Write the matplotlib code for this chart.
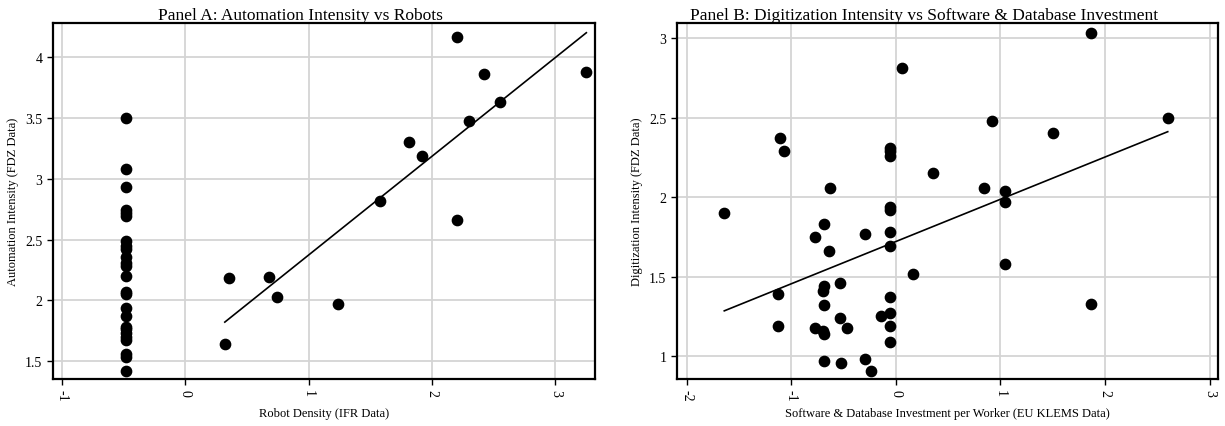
import numpy as np
import matplotlib.pyplot as plt
from matplotlib.ticker import FuncFormatter

plt.rcParams['font.family'] = ['Liberation Serif', 'DejaVu Serif']

# Panel A: robots vs automation intensity
robot_missing_x = -0.48
robot_missing_y = [3.50, 3.08, 2.93, 2.74, 2.72, 2.69, 2.49, 2.45, 2.42, 2.36,
                   2.31, 2.28, 2.20, 2.07, 2.05, 1.94, 1.87, 1.78, 1.76, 1.73,
                   1.70, 1.67, 1.56, 1.53, 1.42]
robot_x = [0.35, 0.32, 0.68, 0.74, 1.24, 1.58, 1.81, 1.92, 2.20, 2.20,
           2.30, 2.42, 2.55, 3.25]
robot_y = [2.18, 1.64, 2.19, 2.03, 1.97, 2.82, 3.30, 3.19, 4.17, 2.66,
           3.48, 3.86, 3.63, 3.88]

# Panel B: software investment vs digitization intensity
soft_x = [-1.64, -1.11, -1.07, -1.13, -1.13, -0.63, -0.69, -0.77, -0.64, -0.69,
          -0.70, -0.69, -0.53, -0.53, -0.77, -0.70, -0.69, -0.47, -0.69, -0.52,
          -0.29, -0.24, -0.29, -0.14, -0.06, -0.06, -0.06, -0.06, -0.06, -0.06,
          -0.06, -0.06, -0.06, -0.06, -0.06, 0.06, 0.16, 0.36, 0.92, 0.84,
          1.04, 1.04, 1.04, 1.50, 1.87, 1.87, 2.60]
soft_y = [1.90, 2.37, 2.29, 1.39, 1.19, 2.06, 1.83, 1.75, 1.66, 1.44,
          1.41, 1.32, 1.46, 1.24, 1.18, 1.16, 1.14, 1.18, 0.97, 0.96,
          0.98, 0.91, 1.77, 1.25, 2.31, 2.29, 2.26, 1.94, 1.92, 1.78,
          1.69, 1.37, 1.27, 1.19, 1.09, 2.81, 1.52, 2.15, 2.48, 2.06,
          2.04, 1.97, 1.58, 2.40, 3.03, 1.33, 2.50]

fig = plt.figure(figsize=(12.25, 4.27), dpi=100)
ax1 = fig.add_axes([0.043, 0.110, 0.4427, 0.833])
ax2 = fig.add_axes([0.5524, 0.110, 0.4421, 0.833])

fmt = FuncFormatter(lambda v, p: '{:g}'.format(v))


def style(ax):
    ax.grid(True, color='#d4d4d4', linewidth=1.3)
    ax.set_axisbelow(True)
    for s in ax.spines.values():
        s.set_linewidth(1.6)
        s.set_color('black')
    ax.tick_params(axis='both', labelsize=10, length=4, width=1, direction='out')
    ax.tick_params(axis='x', labelrotation=-90)
    ax.xaxis.set_major_formatter(fmt)
    ax.yaxis.set_major_formatter(fmt)


# Panel A
ax1.scatter([robot_missing_x] * len(robot_missing_y), robot_missing_y, s=55, color='black', zorder=3)
ax1.scatter(robot_x, robot_y, s=55, color='black', zorder=3)
b1, a1 = np.polyfit(robot_x, robot_y, 1)
xs = np.array([min(robot_x), max(robot_x)])
ax1.plot(xs, a1 + b1 * xs, color='black', linewidth=1.2, zorder=2)
ax1.set_xlim(-1.075, 3.32)
ax1.set_ylim(1.352, 4.28)
ax1.set_xticks([-1, 0, 1, 2, 3])
ax1.set_yticks([1.5, 2, 2.5, 3, 3.5, 4])
ax1.set_title('Panel A: Automation Intensity vs Robots', fontsize=12.5, pad=3, x=0.456)
ax1.set_xlabel('Robot Density (IFR Data)', fontsize=9)
ax1.set_ylabel('Automation Intensity (FDZ Data)', fontsize=9)
style(ax1)

# Panel B
ax2.scatter(soft_x, soft_y, s=55, color='black', zorder=3)
b2, a2 = np.polyfit(soft_x, soft_y, 1)
xs2 = np.array([min(soft_x), max(soft_x)])
ax2.plot(xs2, a2 + b2 * xs2, color='black', linewidth=1.2, zorder=2)
ax2.set_xlim(-2.095, 3.083)
ax2.set_ylim(0.857, 3.092)
ax2.set_xticks([-2, -1, 0, 1, 2, 3])
ax2.set_yticks([1, 1.5, 2, 2.5, 3])
ax2.set_title('Panel B: Digitization Intensity vs Software & Database Investment',
              fontsize=12.5, pad=3, x=0.456)
ax2.set_xlabel('Software & Database Investment per Worker (EU KLEMS Data)', fontsize=9)
ax2.set_ylabel('Digitization Intensity (FDZ Data)', fontsize=9)
style(ax2)

fig.savefig('out.png', dpi=100)
